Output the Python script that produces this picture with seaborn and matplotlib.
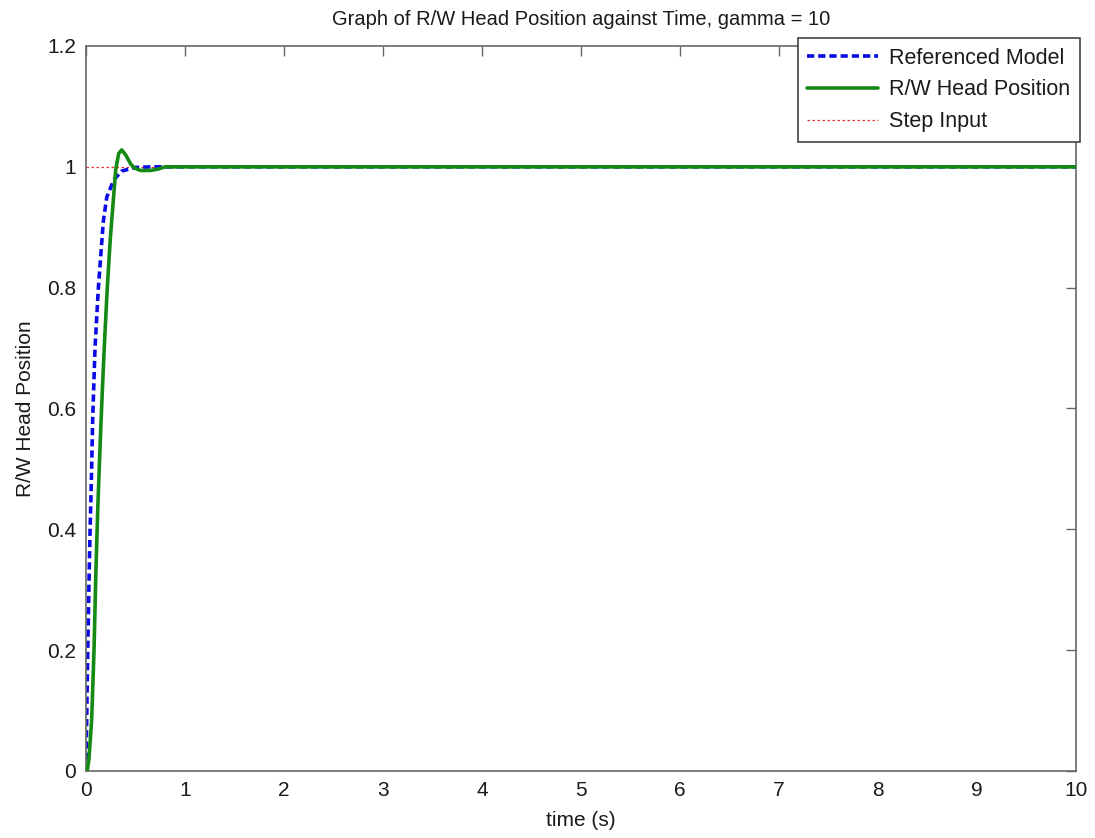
import matplotlib
matplotlib.use("Agg")
import matplotlib.pyplot as plt
import seaborn as sns
import pandas as pd

# Referenced model response
ref_t = [0, 0.01, 0.02, 0.03, 0.04, 0.057, 0.067, 0.091, 0.125, 0.175, 0.21, 0.28, 0.36, 0.5, 0.66, 10]
ref_v = [0, 0.12, 0.22, 0.31, 0.39, 0.5, 0.58, 0.7, 0.8, 0.91, 0.95, 0.978, 0.993, 0.999, 1.0, 1.0]

# R/W head position response
pos_t = [0, 0.013, 0.03, 0.057, 0.081, 0.1, 0.12, 0.145, 0.165, 0.19, 0.215, 0.245, 0.276, 0.3,
         0.33, 0.36, 0.4, 0.45, 0.49, 0.55, 0.65, 0.72, 0.8, 10]
pos_v = [0, 0, 0.02, 0.084, 0.2, 0.33, 0.44, 0.55, 0.63, 0.72, 0.8, 0.88, 0.945, 0.995,
         1.022, 1.028, 1.02, 1.005, 0.998, 0.994, 0.994, 0.996, 1.0, 1.0]

# Step input
step_t = [0, 10]
step_v = [1, 1]

x_ticks = [0, 1, 2, 3, 4, 5, 6, 7, 8, 9, 10]
y_ticks = [0, 0.2, 0.4, 0.6, 0.8, 1, 1.2]
y_tick_labels = ["0", "0.2", "0.4", "0.6", "0.8", "1", "1.2"]

sns.set_style("white")
plt.rcParams['font.family'] = ['Liberation Sans', 'DejaVu Sans']

fig = plt.figure(figsize=(10.95, 8.38), dpi=100)
ax = fig.add_axes([86/1095, 1 - 771/838, (1076-86)/1095, (771-46)/838])

ref_df = pd.DataFrame({"t": ref_t, "v": ref_v})
pos_df = pd.DataFrame({"t": pos_t, "v": pos_v})
step_df = pd.DataFrame({"t": step_t, "v": step_v})

sns.lineplot(data=ref_df, x="t", y="v", ax=ax, color="#0a0ae6", linewidth=2.6,
             linestyle=(0, (2.0, 1.1)), label="Referenced Model", zorder=2)
sns.lineplot(data=pos_df, x="t", y="v", ax=ax, color="#148a14", linewidth=2.6,
             label="R/W Head Position", zorder=3)
sns.lineplot(data=step_df, x="t", y="v", ax=ax, color="#e83030", linewidth=0.9,
             linestyle=(0, (2, 2)), label="Step Input", zorder=1)

ax.set_xlim(0, 10)
ax.set_ylim(0, 1.2)
ax.set_xticks(x_ticks)
ax.set_xticklabels([str(t) for t in x_ticks])
ax.set_yticks(y_ticks)
ax.set_yticklabels(y_tick_labels)
ax.tick_params(direction="in", length=7, width=1.0, top=True, right=True,
               labelsize=15, color="#666666", labelcolor="#1a1a1a", pad=7)
for s in ax.spines.values():
    s.set_color("#666666")
    s.set_linewidth(1.2)

ax.set_xlabel("time (s)", fontsize=15, labelpad=8, color="#1a1a1a")
ax.set_ylabel("R/W Head Position", fontsize=15, labelpad=9, color="#1a1a1a")
ax.set_title("Graph of R/W Head Position against Time, gamma = 10", fontsize=14.5, pad=15,
             color="#1a1a1a")

leg = ax.legend(loc="upper right", bbox_to_anchor=(1080/1095, 1 - 38/838),
                bbox_transform=fig.transFigure, fontsize=15.5,
                frameon=True, fancybox=False, edgecolor="#444444", framealpha=1,
                handlelength=3.3, borderpad=0.45, labelspacing=0.5, handletextpad=0.5,
                borderaxespad=0)
leg.get_frame().set_linewidth(1.2)
for t in leg.get_texts():
    t.set_color("#1a1a1a")

fig.savefig("out.png", dpi=100)
